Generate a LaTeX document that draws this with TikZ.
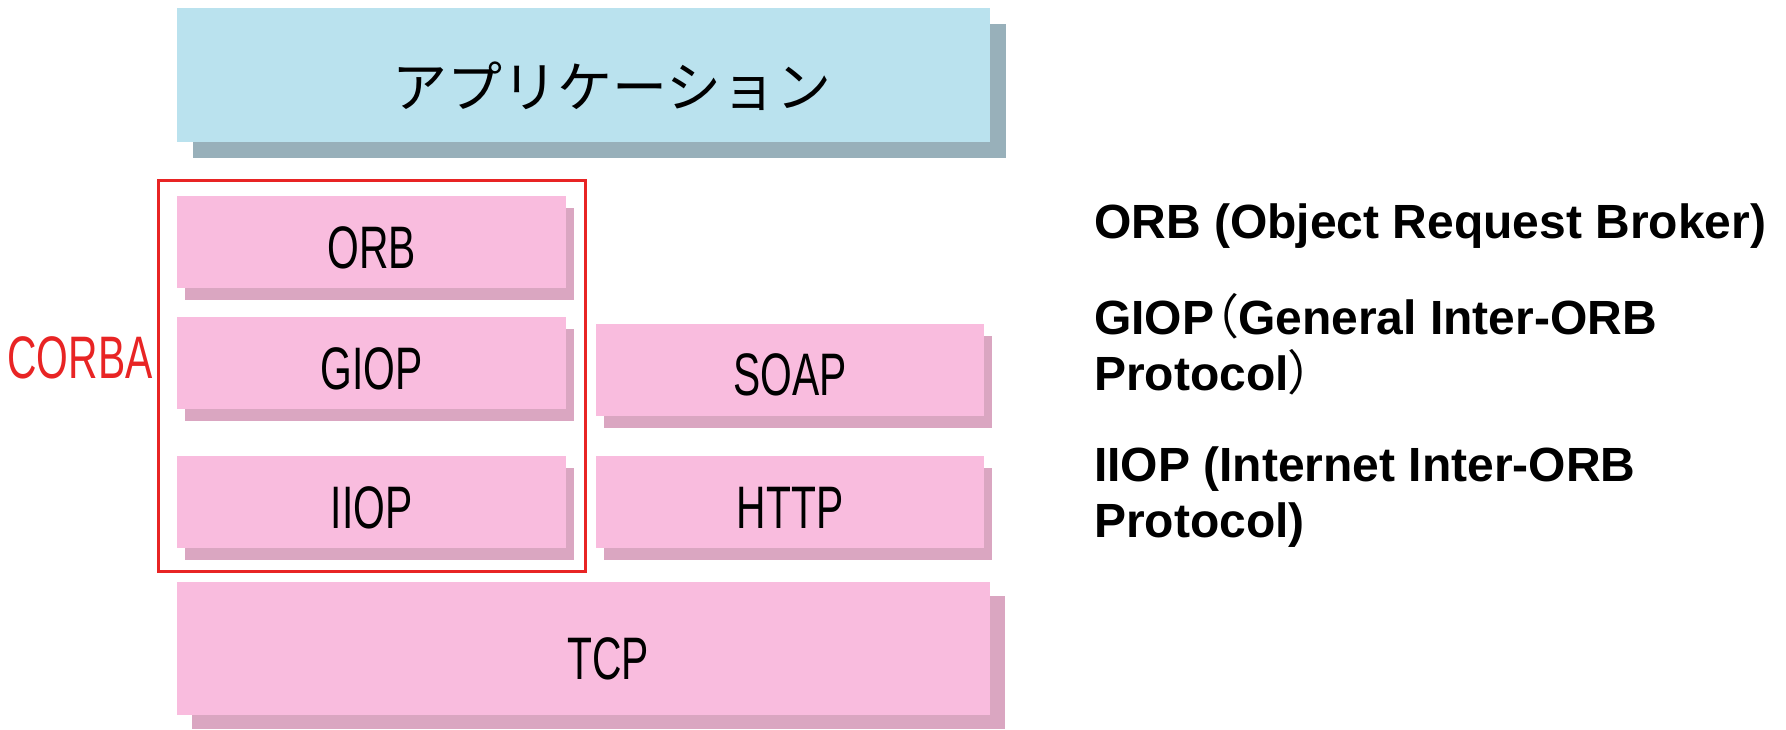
\documentclass[tikz,border=0pt]{standalone}
\usepackage{fontspec}
\setmainfont{Liberation Sans}
\newfontfamily\narrowfont[FakeStretch=0.68]{Liberation Sans}
\newfontfamily\jpfont{Noto Sans CJK JP}
\newfontfamily\jpparen[RawFeature=+palt]{Noto Sans CJK JP}
\usetikzlibrary{shadows}
\definecolor{appblue}{RGB}{186,226,238}
\definecolor{appshade}{RGB}{152,176,186}
\definecolor{layerpink}{RGB}{249,188,222}
\definecolor{layershade}{RGB}{218,166,193}
\definecolor{corbared}{RGB}{232,36,36}
\begin{document}
\begin{tikzpicture}[
        x=1pt, y=-1pt,
        layer/.style={rectangle, fill=layerpink, inner sep=0pt,
            minimum width=389pt, minimum height=92pt,
            font=\narrowfont\fontsize{60}{60}\selectfont,
            text height=52pt, text depth=0pt,
            drop shadow={shadow xshift=8pt, shadow yshift=-12pt, fill=layershade, opacity=1}},
        widelayer/.style={rectangle, fill=#1, inner sep=0pt,
            minimum width=813pt, minimum height=134pt},
        layerlabel/.style={inner sep=0pt, font=\narrowfont\fontsize{60}{60}\selectfont,
            text height=43pt, text depth=0pt},
        frame/.style={rectangle, draw=corbared, line width=3pt, inner sep=0pt,
            minimum width=427pt, minimum height=391pt},
        note/.style={anchor=base west, align=left, inner sep=0pt,
            font=\fontsize{48}{56}\selectfont\bfseries}
    ]
    \useasboundingbox (0,0) rectangle (1786,729);
    % application layer
    \node[widelayer=appblue,
        drop shadow={shadow xshift=16pt, shadow yshift=-16pt, fill=appshade, opacity=1}]
        (app) at (583,75) {};
    \node[inner sep=0pt, font=\jpfont\fontsize{55}{55}\selectfont]
        (applabel) at (612,86) {アプリケーション};
    % corba stack
    \node[layer] (orb) at (371.5,242) {ORB};
    \node[layer] (giop) at (371.5,363) {GIOP};
    \node[layer] (iiop) at (371.5,502) {IIOP};
    \node[frame] (corba) at (371.5,375.5) {};
    \node[anchor=base, inner sep=0pt, text=corbared,
        font=\narrowfont\fontsize{60}{60}\selectfont]
        (corbalabel) at (80,378) {CORBA};
    % soap stack
    \node[layer, minimum width=388pt] (soap) at (790,369.5) {SOAP};
    \node[layer, minimum width=388pt] (http) at (790,502) {HTTP};
    % transport
    \node[widelayer=layerpink, minimum height=133pt,
        drop shadow={shadow xshift=15pt, shadow yshift=-14pt, fill=layershade, opacity=1}]
        (tcp) at (583.5,648.5) {};
    \node[layerlabel] (tcplabel) at (608,658) {TCP};
    % notes (base = last line)
    \node[note] (orbnote) at (1094,238) {ORB (Object Request Broker)};
    \node[note] (giopnote) at (1094,390)
        {GIOP{\jpparen\mdseries （}General Inter-ORB\\Protocol{\jpparen\mdseries ）}};
    \node[note] (iiopnote) at (1094,537) {IIOP (Internet Inter-ORB\\Protocol)};
\end{tikzpicture}
\end{document}
